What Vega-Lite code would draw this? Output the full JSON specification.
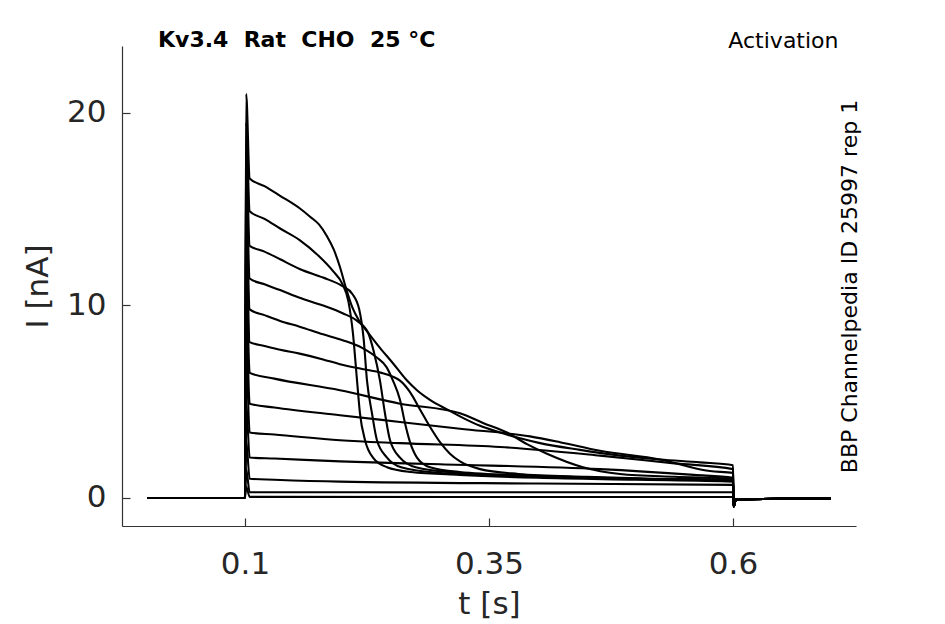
{
  "$schema": "https://vega.github.io/schema/vega-lite/v6.json",
  "description": "Kv3.4 activation current traces",
  "width": 734,
  "height": 480,
  "autosize": {"type": "none"},
  "padding": {"left": 122, "top": 46, "right": 89, "bottom": 98},
  "background": "white",
  "title": {
    "text": "Kv3.4\u00a0\u00a0Rat\u00a0\u00a0CHO\u00a0\u00a025 °C",
    "anchor": "start",
    "frame": "group",
    "dx": 36,
    "offset": -40,
    "baseline": "alphabetic",
    "font": "DejaVu Sans",
    "fontSize": 22,
    "fontWeight": "bold",
    "color": "black"
  },
  "data": {"values": [
    {"s":"A","t":0,"i":0},{"s":"A","t":0.1,"i":0},{"s":"A","t":0.1012,"i":21},{"s":"A","t":0.1048,"i":16.6},{"s":"A","t":0.12,"i":16.2},{"s":"A","t":0.136,"i":15.7},{"s":"A","t":0.156,"i":15.05},{"s":"A","t":0.167,"i":14.6},{"s":"A","t":0.176,"i":14.2},{"s":"A","t":0.184,"i":13.6},{"s":"A","t":0.191,"i":12.9},{"s":"A","t":0.1973,"i":12.0},{"s":"A","t":0.2035,"i":10.9},{"s":"A","t":0.21,"i":9.9},{"s":"A","t":0.217,"i":9.2},{"s":"A","t":0.2245,"i":8.7},{"s":"A","t":0.2383,"i":7.8},{"s":"A","t":0.2516,"i":7.0},{"s":"A","t":0.266,"i":6.1},{"s":"A","t":0.2762,"i":5.6},{"s":"A","t":0.2895,"i":5.1},{"s":"A","t":0.307,"i":4.6},{"s":"A","t":0.3237,"i":4.15},{"s":"A","t":0.3408,"i":3.75},{"s":"A","t":0.3613,"i":3.4},{"s":"A","t":0.3818,"i":3.1},{"s":"A","t":0.4023,"i":2.85},{"s":"A","t":0.4432,"i":2.5},{"s":"A","t":0.4842,"i":2.2},{"s":"A","t":0.5252,"i":2.0},{"s":"A","t":0.5661,"i":1.85},{"s":"A","t":0.6,"i":1.7},{"s":"A","t":0.6006,"i":-0.45},{"s":"A","t":0.603,"i":-0.08},{"s":"A","t":0.7,"i":-0.02},

    {"s":"B","t":0,"i":0},{"s":"B","t":0.1,"i":0},{"s":"B","t":0.1012,"i":19.5},{"s":"B","t":0.1048,"i":14.9},{"s":"B","t":0.12,"i":14.5},{"s":"B","t":0.136,"i":14.0},{"s":"B","t":0.156,"i":13.4},{"s":"B","t":0.175,"i":12.6},{"s":"B","t":0.19,"i":11.8},{"s":"B","t":0.2,"i":11.1},{"s":"B","t":0.206,"i":10.2},{"s":"B","t":0.2105,"i":8.6},{"s":"B","t":0.2148,"i":6.1},{"s":"B","t":0.2178,"i":4.4},{"s":"B","t":0.223,"i":3.0},{"s":"B","t":0.2311,"i":2.1},{"s":"B","t":0.2455,"i":1.6},{"s":"B","t":0.27,"i":1.35},{"s":"B","t":0.32,"i":1.2},{"s":"B","t":0.4,"i":1.05},{"s":"B","t":0.5,"i":0.95},{"s":"B","t":0.6,"i":0.85},{"s":"B","t":0.6006,"i":-0.45},{"s":"B","t":0.603,"i":-0.08},{"s":"B","t":0.7,"i":-0.02},

    {"s":"C","t":0,"i":0},{"s":"C","t":0.1,"i":0},{"s":"C","t":0.1012,"i":18},{"s":"C","t":0.1048,"i":13.1},{"s":"C","t":0.12,"i":12.8},{"s":"C","t":0.136,"i":12.4},{"s":"C","t":0.156,"i":11.9},{"s":"C","t":0.18,"i":11.45},{"s":"C","t":0.2,"i":11.0},{"s":"C","t":0.21,"i":10.6},{"s":"C","t":0.217,"i":9.8},{"s":"C","t":0.2215,"i":8.3},{"s":"C","t":0.225,"i":6.1},{"s":"C","t":0.2301,"i":4.4},{"s":"C","t":0.2352,"i":3.0},{"s":"C","t":0.2455,"i":2.1},{"s":"C","t":0.26,"i":1.6},{"s":"C","t":0.3,"i":1.3},{"s":"C","t":0.4,"i":1.1},{"s":"C","t":0.5,"i":1.0},{"s":"C","t":0.6,"i":0.9},{"s":"C","t":0.6006,"i":-0.45},{"s":"C","t":0.603,"i":-0.08},{"s":"C","t":0.7,"i":-0.02},

    {"s":"D","t":0,"i":0},{"s":"D","t":0.1,"i":0},{"s":"D","t":0.1012,"i":16.5},{"s":"D","t":0.1048,"i":11.4},{"s":"D","t":0.12,"i":11.1},{"s":"D","t":0.136,"i":10.8},{"s":"D","t":0.156,"i":10.4},{"s":"D","t":0.18,"i":10.0},{"s":"D","t":0.2,"i":9.6},{"s":"D","t":0.215,"i":9.2},{"s":"D","t":0.226,"i":8.6},{"s":"D","t":0.232,"i":7.6},{"s":"D","t":0.2383,"i":6.1},{"s":"D","t":0.2434,"i":4.4},{"s":"D","t":0.2486,"i":3.0},{"s":"D","t":0.2588,"i":2.1},{"s":"D","t":0.275,"i":1.6},{"s":"D","t":0.32,"i":1.3},{"s":"D","t":0.4,"i":1.1},{"s":"D","t":0.5,"i":1.0},{"s":"D","t":0.6,"i":0.88},{"s":"D","t":0.6006,"i":-0.45},{"s":"D","t":0.603,"i":-0.08},{"s":"D","t":0.7,"i":-0.02},

    {"s":"E","t":0,"i":0},{"s":"E","t":0.1,"i":0},{"s":"E","t":0.1012,"i":15},{"s":"E","t":0.1048,"i":9.8},{"s":"E","t":0.12,"i":9.5},{"s":"E","t":0.136,"i":9.2},{"s":"E","t":0.156,"i":8.9},{"s":"E","t":0.18,"i":8.5},{"s":"E","t":0.2,"i":8.2},{"s":"E","t":0.22,"i":7.8},{"s":"E","t":0.235,"i":7.3},{"s":"E","t":0.245,"i":6.8},{"s":"E","t":0.2516,"i":6.1},{"s":"E","t":0.2588,"i":5.1},{"s":"E","t":0.2639,"i":3.9},{"s":"E","t":0.2691,"i":2.9},{"s":"E","t":0.2762,"i":2.1},{"s":"E","t":0.2895,"i":1.6},{"s":"E","t":0.32,"i":1.35},{"s":"E","t":0.4,"i":1.15},{"s":"E","t":0.5,"i":1.0},{"s":"E","t":0.6,"i":0.92},{"s":"E","t":0.6006,"i":-0.45},{"s":"E","t":0.603,"i":-0.08},{"s":"E","t":0.7,"i":-0.02},

    {"s":"F","t":0,"i":0},{"s":"F","t":0.1,"i":0},{"s":"F","t":0.1012,"i":13.5},{"s":"F","t":0.1048,"i":8.1},{"s":"F","t":0.12,"i":7.9},{"s":"F","t":0.136,"i":7.7},{"s":"F","t":0.156,"i":7.5},{"s":"F","t":0.18,"i":7.2},{"s":"F","t":0.1973,"i":6.95},{"s":"F","t":0.22,"i":6.7},{"s":"F","t":0.24,"i":6.5},{"s":"F","t":0.2516,"i":6.3},{"s":"F","t":0.2588,"i":6.1},{"s":"F","t":0.2691,"i":5.5},{"s":"F","t":0.2793,"i":4.6},{"s":"F","t":0.2895,"i":3.7},{"s":"F","t":0.2998,"i":2.9},{"s":"F","t":0.31,"i":2.3},{"s":"F","t":0.3203,"i":1.9},{"s":"F","t":0.3408,"i":1.5},{"s":"F","t":0.38,"i":1.25},{"s":"F","t":0.45,"i":1.1},{"s":"F","t":0.52,"i":1.0},{"s":"F","t":0.6,"i":0.95},{"s":"F","t":0.6006,"i":-0.45},{"s":"F","t":0.603,"i":-0.08},{"s":"F","t":0.7,"i":-0.02},

    {"s":"G","t":0,"i":0},{"s":"G","t":0.1,"i":0},{"s":"G","t":0.1012,"i":11.5},{"s":"G","t":0.1048,"i":6.5},{"s":"G","t":0.13,"i":6.2},{"s":"G","t":0.1973,"i":5.6},{"s":"G","t":0.2588,"i":4.9},{"s":"G","t":0.3203,"i":4.4},{"s":"G","t":0.3439,"i":3.9},{"s":"G","t":0.3684,"i":3.4},{"s":"G","t":0.3889,"i":2.8},{"s":"G","t":0.4094,"i":2.3},{"s":"G","t":0.4463,"i":1.6},{"s":"G","t":0.4842,"i":1.25},{"s":"G","t":0.54,"i":1.1},{"s":"G","t":0.6,"i":1.0},{"s":"G","t":0.6006,"i":-0.45},{"s":"G","t":0.603,"i":-0.08},{"s":"G","t":0.7,"i":-0.02},

    {"s":"H","t":0,"i":0},{"s":"H","t":0.1,"i":0},{"s":"H","t":0.1012,"i":9.5},{"s":"H","t":0.1048,"i":4.9},{"s":"H","t":0.13,"i":4.7},{"s":"H","t":0.1973,"i":4.3},{"s":"H","t":0.2588,"i":3.95},{"s":"H","t":0.3203,"i":3.6},{"s":"H","t":0.392,"i":3.2},{"s":"H","t":0.4227,"i":2.9},{"s":"H","t":0.4637,"i":2.45},{"s":"H","t":0.5252,"i":2.0},{"s":"H","t":0.5764,"i":1.4},{"s":"H","t":0.6,"i":1.3},{"s":"H","t":0.6006,"i":-0.45},{"s":"H","t":0.603,"i":-0.08},{"s":"H","t":0.7,"i":-0.02},

    {"s":"I","t":0,"i":0},{"s":"I","t":0.1,"i":0},{"s":"I","t":0.1012,"i":7.5},{"s":"I","t":0.1048,"i":3.4},{"s":"I","t":0.13,"i":3.3},{"s":"I","t":0.1973,"i":3.0},{"s":"I","t":0.2588,"i":2.85},{"s":"I","t":0.3613,"i":2.65},{"s":"I","t":0.4637,"i":2.2},{"s":"I","t":0.54,"i":1.8},{"s":"I","t":0.6,"i":1.5},{"s":"I","t":0.6006,"i":-0.45},{"s":"I","t":0.603,"i":-0.08},{"s":"I","t":0.7,"i":-0.02},

    {"s":"J","t":0,"i":0},{"s":"J","t":0.1,"i":0},{"s":"J","t":0.1012,"i":5},{"s":"J","t":0.1048,"i":2.1},{"s":"J","t":0.13,"i":2.05},{"s":"J","t":0.1973,"i":1.9},{"s":"J","t":0.2998,"i":1.75},{"s":"J","t":0.4637,"i":1.5},{"s":"J","t":0.56,"i":1.2},{"s":"J","t":0.6,"i":1.05},{"s":"J","t":0.6006,"i":-0.45},{"s":"J","t":0.603,"i":-0.08},{"s":"J","t":0.7,"i":-0.02},

    {"s":"K","t":0,"i":0},{"s":"K","t":0.1,"i":0},{"s":"K","t":0.1012,"i":3},{"s":"K","t":0.1048,"i":1.0},{"s":"K","t":0.13,"i":0.95},{"s":"K","t":0.1973,"i":0.85},{"s":"K","t":0.4,"i":0.75},{"s":"K","t":0.6,"i":0.68},{"s":"K","t":0.6006,"i":-0.45},{"s":"K","t":0.603,"i":-0.08},{"s":"K","t":0.7,"i":-0.02},

    {"s":"L","t":0,"i":0},{"s":"L","t":0.1,"i":0},{"s":"L","t":0.1012,"i":1.5},{"s":"L","t":0.1048,"i":0.3},{"s":"L","t":0.35,"i":0.3},{"s":"L","t":0.6,"i":0.3},{"s":"L","t":0.6006,"i":-0.45},{"s":"L","t":0.603,"i":-0.08},{"s":"L","t":0.7,"i":-0.02},

    {"s":"M","t":0,"i":0},{"s":"M","t":0.1,"i":0},{"s":"M","t":0.1012,"i":0.6},{"s":"M","t":0.1048,"i":0.06},{"s":"M","t":0.35,"i":0.05},{"s":"M","t":0.6,"i":0.05},{"s":"M","t":0.6006,"i":-0.45},{"s":"M","t":0.603,"i":-0.08},{"s":"M","t":0.7,"i":-0.02}
  ]},
  "layer": [
    {
      "mark": {"type": "line", "color": "black", "strokeWidth": 2.1, "interpolate": "monotone"},
      "encoding": {
        "x": {
          "field": "t", "type": "quantitative",
          "scale": {"domain": [-0.026, 0.726], "nice": false, "zero": false},
          "axis": {
            "orient": "bottom", "values": [0.1, 0.35, 0.6], "format": ".2~f", "title": "t [s]",
            "grid": false, "domainColor": "#333333", "domainWidth": 1.2,
            "tickColor": "#333333", "tickWidth": 1.2, "tickSize": -8,
            "labelFont": "DejaVu Sans", "labelFontSize": 31, "labelColor": "#262626", "labelPadding": 31,
            "titleFont": "DejaVu Sans", "titleFontSize": 31, "titleFontWeight": "normal", "titleColor": "#262626",
            "titlePadding": 10
          }
        },
        "y": {
          "field": "i", "type": "quantitative",
          "scale": {"domain": [-1.455, 23.48], "nice": false, "zero": false},
          "axis": {
            "orient": "left", "values": [0, 10, 20], "format": "d", "title": "I [nA]",
            "grid": false, "domainColor": "#333333", "domainWidth": 1.2,
            "tickColor": "#333333", "tickWidth": 1.2, "tickSize": -8,
            "labelFont": "DejaVu Sans", "labelFontSize": 31, "labelColor": "#262626", "labelPadding": 24,
            "titleFont": "DejaVu Sans", "titleFontSize": 31, "titleFontWeight": "normal", "titleColor": "#262626",
            "titlePadding": 12
          }
        },
        "detail": {"field": "s"}
      }
    },
    {
      "transform": [{"filter": "datum.s == 'M'"}],
      "mark": {"type": "point", "opacity": 0},
      "encoding": {
        "x": {
          "field": "t", "type": "quantitative",
          "axis": {
            "orient": "top", "domain": false, "ticks": false, "labels": false, "grid": false,
            "title": "Activation", "titleX": 716, "titleY": 1, "titleAlign": "right", "titleBaseline": "alphabetic",
            "titleFont": "DejaVu Sans", "titleFontSize": 22, "titleFontWeight": "normal", "titleColor": "black"
          }
        },
        "y": {
          "field": "i", "type": "quantitative",
          "axis": {
            "orient": "right", "domain": false, "ticks": false, "labels": false, "grid": false,
            "title": "BBP Channelpedia ID 25997 rep 1", "titleAngle": 270, "titleBaseline": "middle", "titlePadding": -7,
            "titleFont": "DejaVu Sans", "titleFontSize": 22, "titleFontWeight": "normal", "titleColor": "black"
          }
        }
      }
    }
  ],
  "resolve": {"axis": {"x": "independent", "y": "independent"}},
  "config": {"view": {"stroke": null}}
}
